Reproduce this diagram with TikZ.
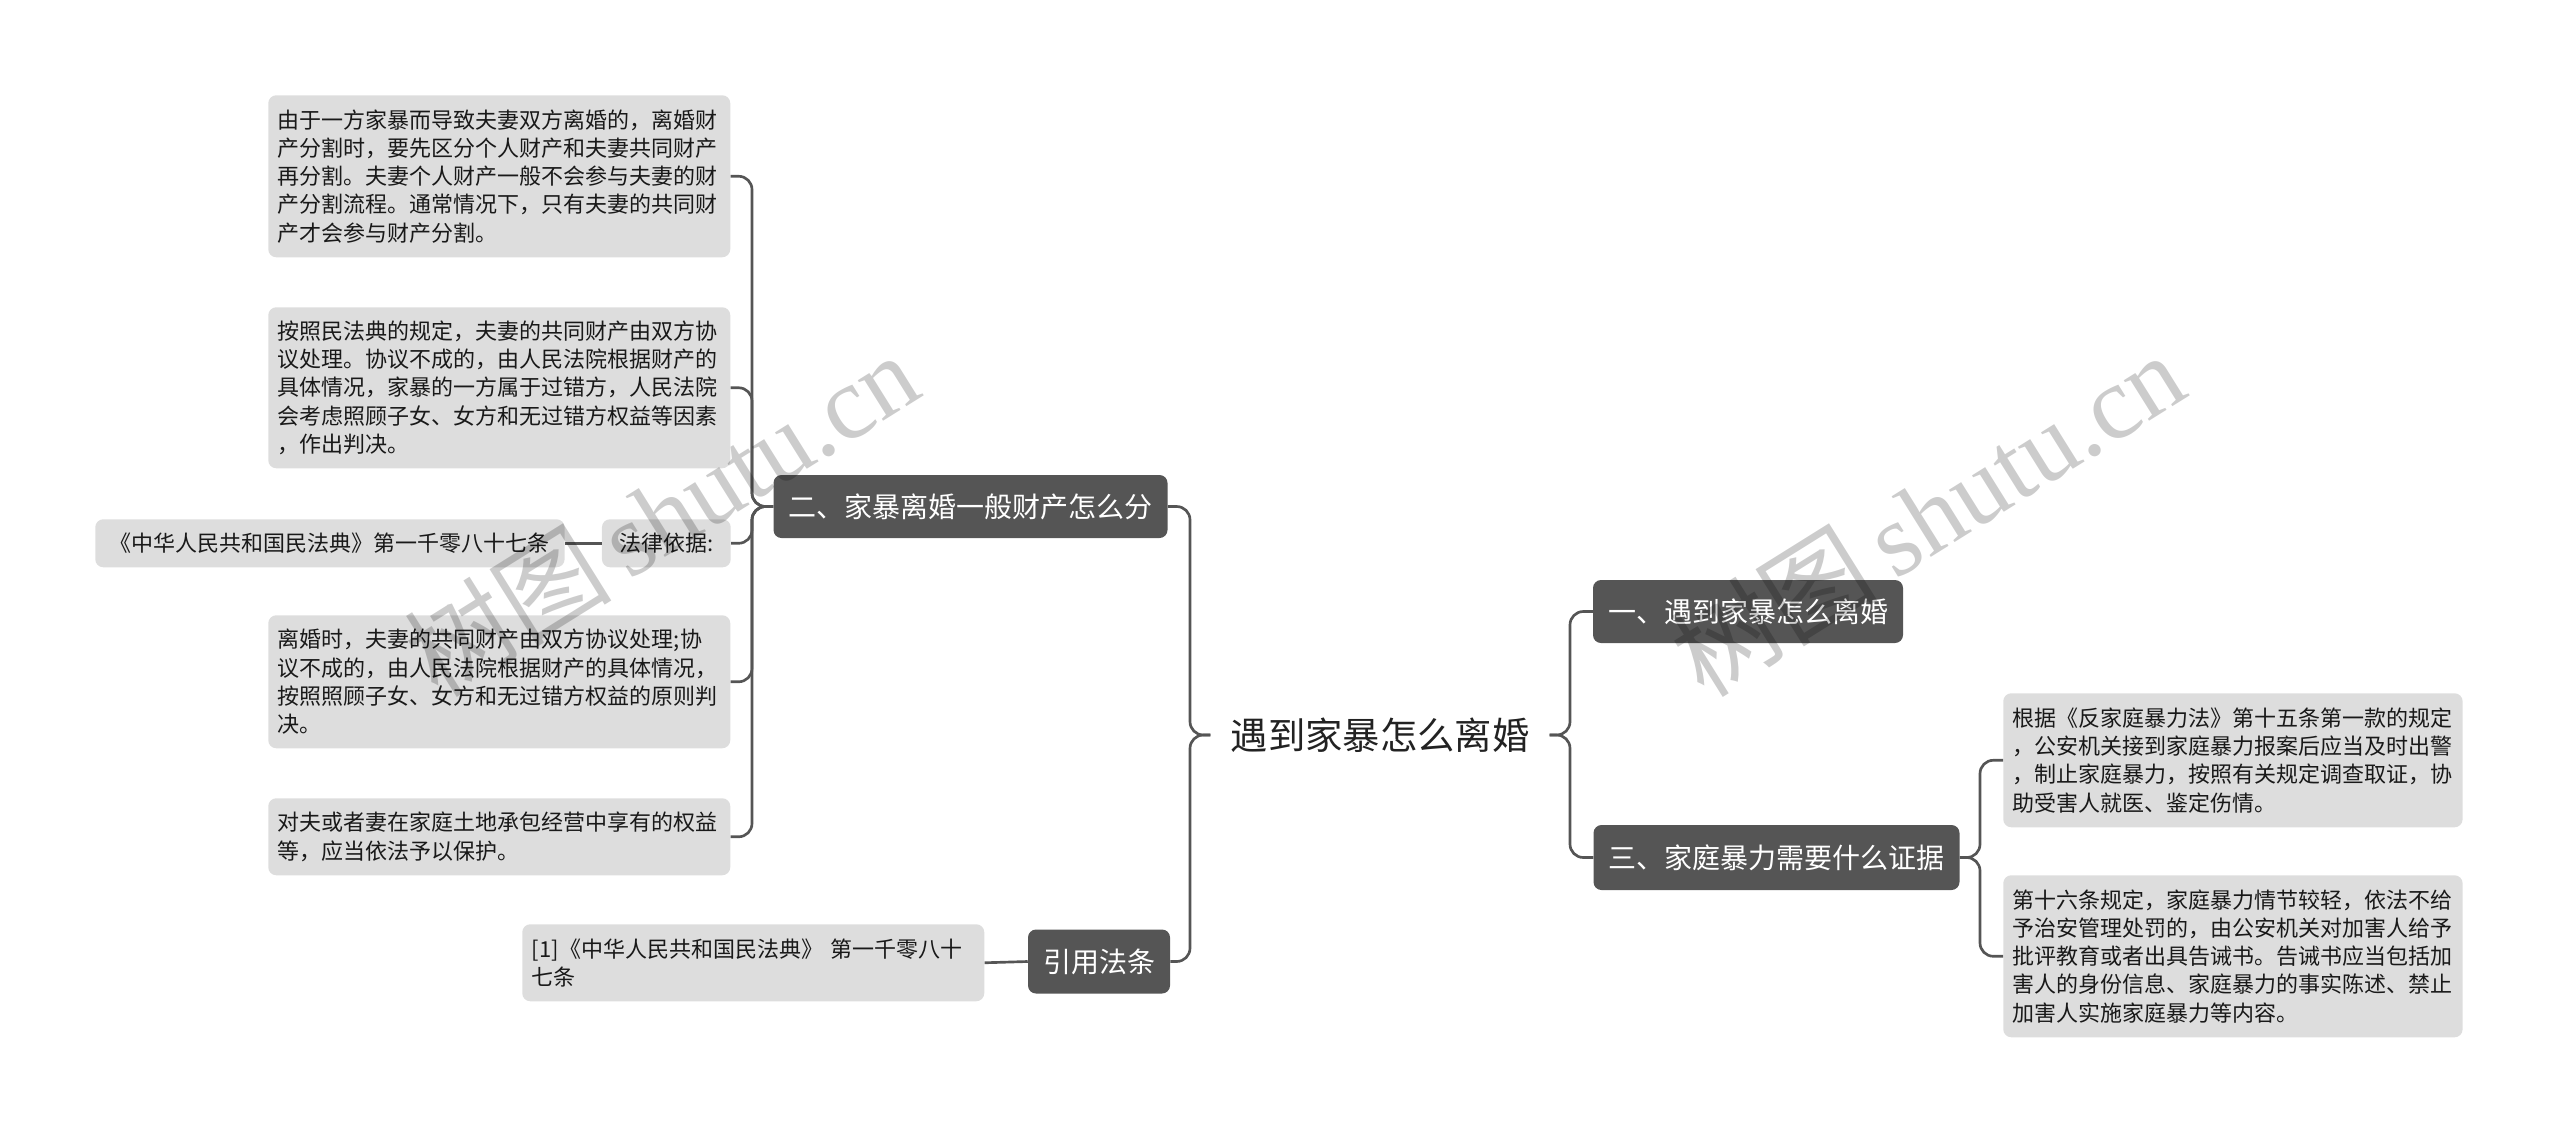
\documentclass[tikz,border=0pt]{standalone}
\usepackage{fontspec}
\setmainfont{Noto Sans CJK SC}
\newfontfamily\wmserif{Liberation Serif}
\definecolor{leafgray}{RGB}{221,221,221}
\definecolor{branchgray}{RGB}{85,85,85}
\definecolor{linegray}{RGB}{85,85,85}
\definecolor{roottext}{RGB}{34,34,34}
\begin{document}
\begin{tikzpicture}[x=0.75pt,y=-0.75pt,
  leaf/.style={fill=leafgray, rounded corners=6pt, text=black!90,
    font=\fontsize{16.5pt}{21.2pt}\selectfont, align=left, inner xsep=8pt, inner ysep=2pt},
  leafw/.style={leaf, text width=332pt, inner xsep=7.25pt},
  branch/.style={fill=branchgray, rounded corners=6pt, text=white,
    font=\fontsize{21pt}{25pt}\selectfont, inner xsep=11.25pt, inner ysep=0pt},
  conn/.style={draw=linegray, line width=2pt, rounded corners=10pt},
  wm/.style={text=black, text opacity=0.2, rotate=32, font=\fontsize{78pt}{80pt}\selectfont}]
\useasboundingbox (0,0) rectangle (2560,1133);

% root
\node[font=\fontsize{28pt}{32pt}\selectfont, text=roottext, inner xsep=15pt] (root) at (1380,735) {遇到家暴怎么离婚};

% branches
\node[branch, minimum height=47.25pt] (b2) at (970.5,506.5) {二、家暴离婚一般财产怎么分};
\node[branch, minimum height=48pt] (b4) at (1099,961.5) {引用法条};
\node[branch, minimum height=47.25pt] (b1) at (1748,611.5) {一、遇到家暴怎么离婚};
\node[branch, minimum height=48.75pt] (b3) at (1776.5,857.5) {三、家庭暴力需要什么证据};

% left leaves
\node[leafw, anchor=north west, minimum height=121.5pt] (l1) at (268,95)
  {由于一方家暴而导致夫妻双方离婚的，离婚财\\产分割时，要先区分个人财产和夫妻共同财产\\再分割。夫妻个人财产一般不会参与夫妻的财\\产分割流程。通常情况下，只有夫妻的共同财\\产才会参与财产分割。};
\node[leafw, anchor=north west, minimum height=120.75pt] (l2) at (268,307)
  {按照民法典的规定，夫妻的共同财产由双方协\\议处理。协议不成的，由人民法院根据财产的\\具体情况，家暴的一方属于过错方，人民法院\\会考虑照顾子女、女方和无过错方权益等因素\\，作出判决。};
\node[leaf, anchor=north east, minimum height=36pt, inner xsep=13pt] (basis) at (731,519) {法律依据:};
\node[leaf, anchor=north west, minimum height=36pt, inner xsep=11pt] (law) at (95,519) {《中华人民共和国民法典》第一千零八十七条};
\node[leafw, anchor=north west, minimum height=99.75pt] (l4) at (268,615)
  {离婚时，夫妻的共同财产由双方协议处理;协\\议不成的，由人民法院根据财产的具体情况，\\按照照顾子女、女方和无过错方权益的原则判\\决。};
\node[leafw, anchor=north west, minimum height=57.75pt] (l5) at (268,798)
  {对夫或者妻在家庭土地承包经营中享有的权益\\等，应当依法予以保护。};
\node[leafw, anchor=north west, minimum height=57.75pt] (cite) at (522,924)
  {[1]《中华人民共和国民法典》 第一千零八十\\七条};

% right leaves
\node[leafw, anchor=north west, minimum height=100.5pt, text width=330pt] (r1) at (2003,693)
  {根据《反家庭暴力法》第十五条第一款的规定\\，公安机关接到家庭暴力报案后应当及时出警\\，制止家庭暴力，按照有关规定调查取证，协\\助受害人就医、鉴定伤情。};
\node[leafw, anchor=north west, minimum height=121.5pt, text width=330pt] (r2) at (2003,875)
  {第十六条规定，家庭暴力情节较轻，依法不给\\予治安管理处罚的，由公安机关对加害人给予\\批评教育或者出具告诫书。告诫书应当包括加\\害人的身份信息、家庭暴力的事实陈述、禁止\\加害人实施家庭暴力等内容。};

% trunk points
\coordinate (tL) at (1190,735);
\coordinate (tR) at (1570,735);
\coordinate (t2) at (752,506.5);
\coordinate (t3) at (1980,857.5);

% connectors
\draw[conn] (root.west) -- (tL) |- (b2.east);
\draw[conn] (root.west) -- (tL) |- (b4.east);
\draw[conn] (root.east) -- (tR) |- (b1.west);
\draw[conn] (root.east) -- (tR) |- (b3.west);
\draw[conn] (b2.west) -- (t2) |- (l1.east);
\draw[conn] (b2.west) -- (t2) |- (l2.east);
\draw[conn] (b2.west) -- (t2) |- (basis.east);
\draw[conn] (b2.west) -- (t2) |- (l4.east);
\draw[conn] (b2.west) -- (t2) |- (l5.east);
\draw[conn] (basis.west) -- (law.east);
\draw[conn] (b4.west) -- (cite.east);
\draw[conn] (b3.east) -- (t3) |- (r1.west);
\draw[conn] (b3.east) -- (t3) |- (r2.west);

% watermarks
\node[wm] (w1) at (661,514) {树图\,{\wmserif shutu.cn}};
\node[wm] (w2) at (1927,514) {树图\,{\wmserif shutu.cn}};
\end{tikzpicture}
\end{document}
